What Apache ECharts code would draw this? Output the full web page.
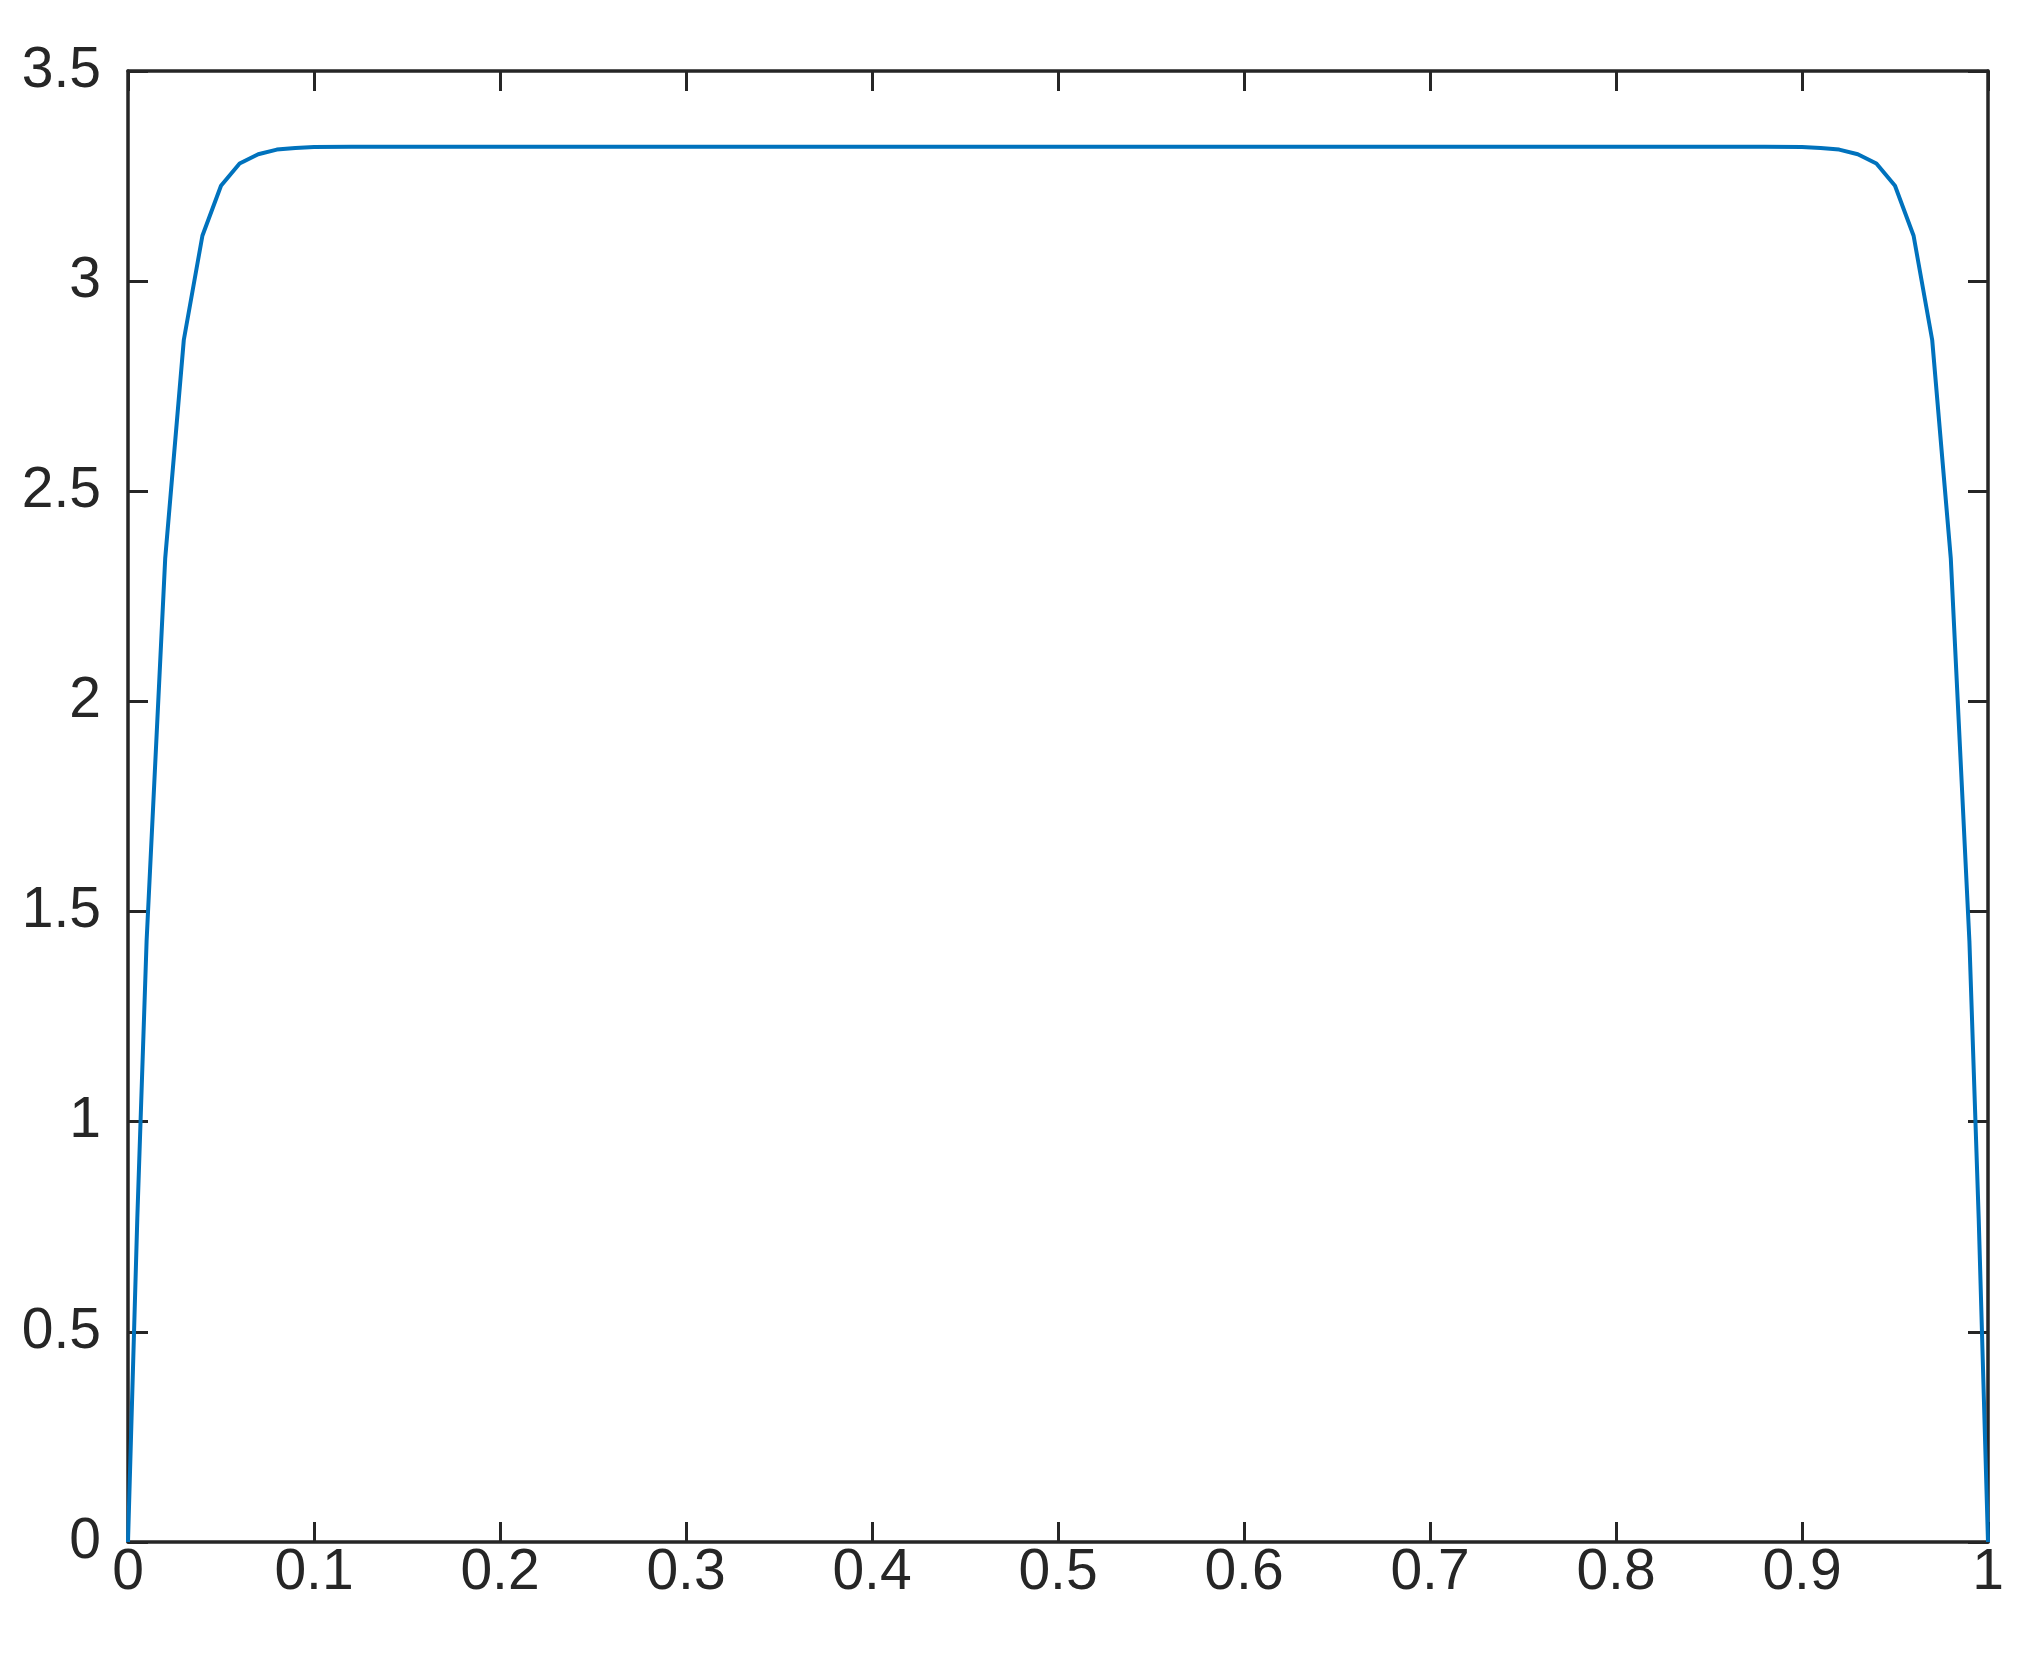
<!DOCTYPE html>
<html>
<head>
<meta charset="utf-8">
<title>plateau</title>
<script src="https://cdn.jsdelivr.net/npm/echarts@6/dist/echarts.min.js"></script>
<style>
  html, body { margin: 0; padding: 0; background: #fff; }
  #chart { width: 2033px; height: 1669px; }
</style>
</head>
<body>
<div id="chart"></div>
<script>
// 曲线数据
const xValues = [0, 0.005, 0.01, 0.02, 0.03, 0.04, 0.05, 0.06, 0.07, 0.08, 0.09, 0.1, 0.12,
  0.5, 0.88, 0.9, 0.91, 0.92, 0.93, 0.94, 0.95, 0.96, 0.97, 0.98, 0.99, 0.995, 1]
const yValues = [0, 0.77, 1.43, 2.34, 2.86, 3.108, 3.227, 3.28, 3.302, 3.313, 3.317, 3.319, 3.32,
  3.32, 3.32, 3.319, 3.317, 3.313, 3.302, 3.28, 3.227, 3.108, 2.86, 2.34, 1.43, 0.77, 0]
const xTicks = [0, 0.1, 0.2, 0.3, 0.4, 0.5, 0.6, 0.7, 0.8, 0.9, 1]
const yTicks = [0, 0.5, 1, 1.5, 2, 2.5, 3, 3.5]

const axisColor = '#262626'
const fontSize = 57

const chart = echarts.init(document.getElementById('chart'))

const baseAxis = {
  type: 'value',
  axisLine: { show: true, onZero: false, lineStyle: { color: axisColor, width: 3.5 } },
  axisTick: { show: true, inside: true, length: 20, lineStyle: { color: axisColor, width: 3 } },
  splitLine: { show: false },
  axisLabel: { show: false }
}

const labelStyle = {
  show: true,
  color: axisColor,
  fontSize: fontSize,
  fontFamily: 'Liberation Sans, Arial, sans-serif'
}

const option = {
  animation: false,
  backgroundColor: '#fff',
  grid: { left: 128, right: 45, top: 71, bottom: 127, containLabel: false },
  xAxis: [
    Object.assign({}, baseAxis, {
      position: 'bottom', min: xTicks[0], max: xTicks[xTicks.length - 1], interval: 0.1,
      axisLabel: Object.assign({}, labelStyle, { margin: 3, formatter: v => String(+v.toFixed(1)) })
    }),
    Object.assign({}, baseAxis, {
      position: 'top', min: xTicks[0], max: xTicks[xTicks.length - 1], interval: 0.1
    })
  ],
  yAxis: [
    Object.assign({}, baseAxis, {
      position: 'left', min: yTicks[0], max: yTicks[yTicks.length - 1], interval: 0.5,
      axisLabel: Object.assign({}, labelStyle, { margin: 27, formatter: v => String(+v.toFixed(1)) })
    }),
    Object.assign({}, baseAxis, {
      position: 'right', min: yTicks[0], max: yTicks[yTicks.length - 1], interval: 0.5
    })
  ],
  series: [
    {
      type: 'line',
      xAxisIndex: 0,
      yAxisIndex: 0,
      showSymbol: false,
      symbol: 'none',
      clip: false,
      lineStyle: { color: '#0072BD', width: 4 },
      data: xValues.map((x, i) => [x, yValues[i]])
    }
  ]
}

chart.setOption(option)
</script>
</body>
</html>
